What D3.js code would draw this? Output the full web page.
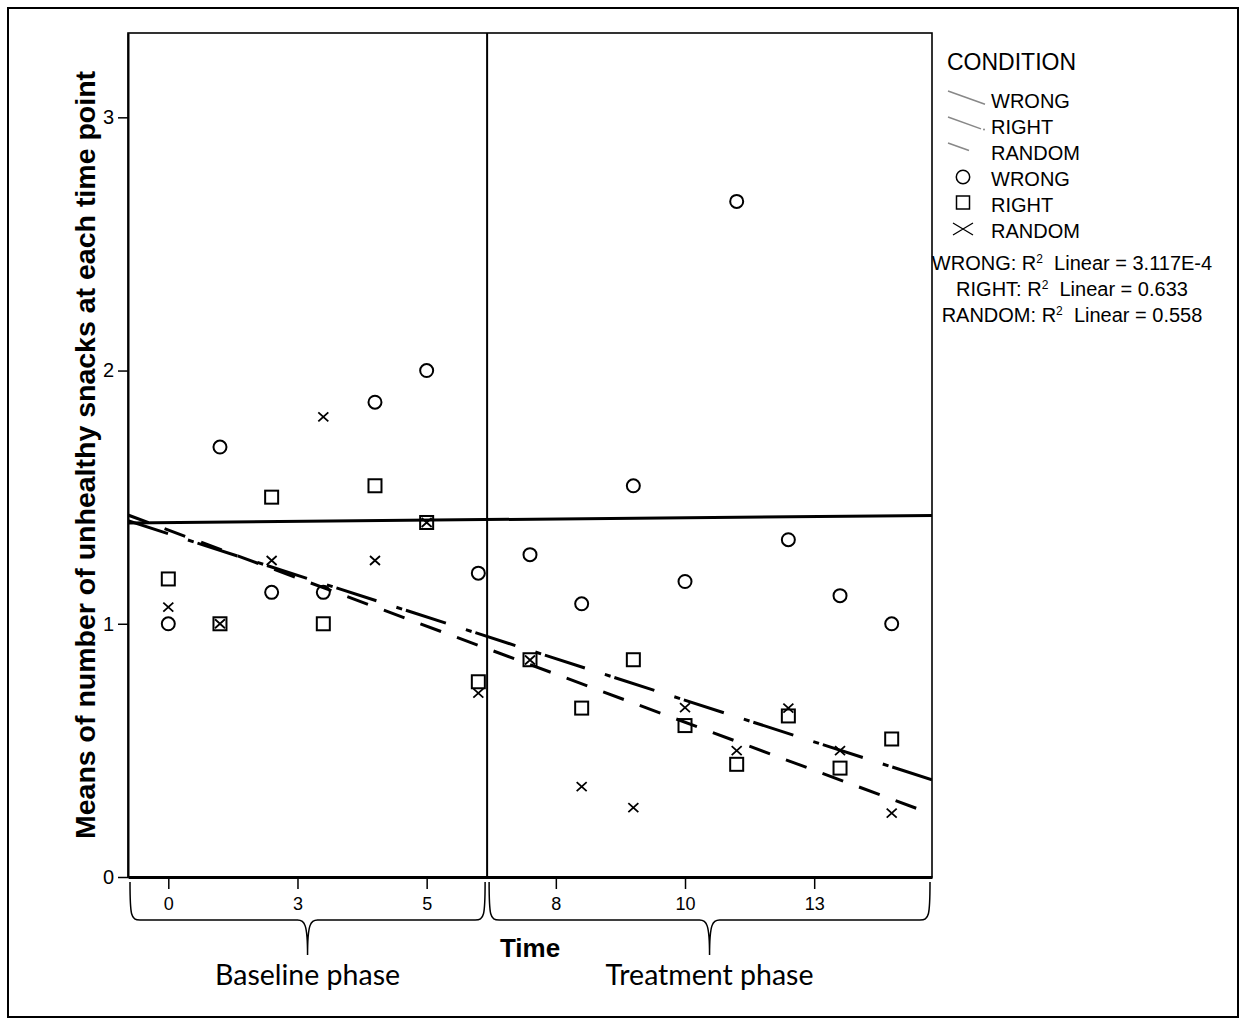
<!DOCTYPE html>
<html>
<head>
<meta charset="utf-8">
<script src="https://cdn.jsdelivr.net/npm/d3@7"></script>
<style>
  html, body { margin: 0; padding: 0; background: #fff; }
  svg { display: block; }
  text { font-family: "Liberation Sans", Arial, sans-serif; fill: #000; }
</style>
</head>
<body>
<svg id="chart" width="1245" height="1025"></svg>
<script>
// ---- data ----
const times = [0, 1, 2, 3, 4, 5, 6, 7, 8, 9, 10, 11, 12, 13, 14];
const wrongVals  = [1.0, 1.698, 1.124, 1.124, 1.875, 2.0, 1.2, 1.273, 1.079, 1.545, 1.167, 2.668, 1.332, 1.111, 1.0];
const rightVals  = [1.177, 1.0, 1.5, 1.0, 1.545, 1.4, 0.771, 0.858, 0.667, 0.858, 0.598, 0.445, 0.636, 0.430, 0.545];
const randomVals = [1.066, 1.0, 1.25, 1.817, 1.25, 1.4, 0.726, 0.857, 0.357, 0.274, 0.669, 0.499, 0.667, 0.499, 0.252];
const xTickValues = [0, 2.5, 5, 7.5, 10, 12.5];
const xTickLabels = ["0", "3", "5", "8", "10", "13"];
const yTickValues = [0, 1, 2, 3];
const phaseBoundary = 6.17;
const phaseLabels = ["Baseline phase", "Treatment phase"];
const conditions = ["WRONG", "RIGHT", "RANDOM"];
const r2Values = ["3.117E-4", "0.633", "0.558"];

// ---- layout ----
const svg = d3.select("#chart");
const L = 128, R = 932, T = 33, B = 877;
const x = d3.scaleLinear().domain([-0.78, 14.78]).range([L, R]);
const y = d3.scaleLinear().domain([0, 3.333]).range([B, T]);

// outer frame
svg.append("rect").attr("x", 8).attr("y", 8).attr("width", 1230).attr("height", 1009)
  .attr("fill", "none").attr("stroke", "#000").attr("stroke-width", 2);

// plot frame
svg.append("rect").attr("x", L).attr("y", T).attr("width", R - L).attr("height", B - T)
  .attr("fill", "none").attr("stroke", "#000").attr("stroke-width", 1.6);

// y axis
const yAxis = svg.append("g").attr("transform", `translate(${L},0)`)
  .call(d3.axisLeft(y).tickValues(yTickValues).tickFormat(d3.format("d")).tickSize(10).tickSizeOuter(0).tickPadding(4));
yAxis.select(".domain").attr("stroke-width", 2);
yAxis.selectAll(".tick line").attr("stroke-width", 1.5);
yAxis.selectAll(".tick text").style("font-size", "20px").style("font-family", '"Liberation Sans", Arial, sans-serif');

// x axis
const xAxis = svg.append("g").attr("transform", `translate(0,${B})`)
  .call(d3.axisBottom(x).tickValues(xTickValues).tickFormat((d, i) => xTickLabels[i]).tickSize(12).tickSizeOuter(0).tickPadding(8));
xAxis.select(".domain").attr("stroke-width", 3);
xAxis.selectAll(".tick line").attr("stroke-width", 1.5);
xAxis.selectAll(".tick text").style("font-size", "18px").style("font-family", '"Liberation Sans", Arial, sans-serif');

// phase boundary line
svg.append("line").attr("x1", x(phaseBoundary)).attr("x2", x(phaseBoundary))
  .attr("y1", T).attr("y2", B).attr("stroke", "#000").attr("stroke-width", 2);

// fit lines (least squares from the data)
function fit(xs, ys) {
  const mx = d3.mean(xs), my = d3.mean(ys);
  let sxy = 0, sxx = 0;
  xs.forEach((xi, i) => { sxy += (xi - mx) * (ys[i] - my); sxx += (xi - mx) * (xi - mx); });
  const b = sxy / sxx;
  return t => my + b * (t - mx);
}
const series = [
  { name: "WRONG", vals: wrongVals, dash: null },
  { name: "RIGHT", vals: rightVals, dash: "42,21,6,4" },
  { name: "RANDOM", vals: randomVals, dash: "22,17" }
];
const [x0, x1] = x.domain();
svg.append("clipPath").attr("id", "plotclip").append("rect")
  .attr("x", L).attr("y", T).attr("width", R - L).attr("height", B - T);
series.forEach(s => {
  const f = fit(times, s.vals);
  const ln = svg.append("line").attr("clip-path", "url(#plotclip)")
    .attr("x1", x(x0)).attr("y1", y(f(x0))).attr("x2", x(x1)).attr("y2", y(f(x1)))
    .attr("stroke", "#000").attr("stroke-width", 3);
  if (s.dash) ln.attr("stroke-dasharray", s.dash);
});

// markers
const mk = svg.append("g").attr("fill", "none").attr("stroke", "#000");
times.forEach((t, i) => {
  mk.append("circle").attr("cx", x(t)).attr("cy", y(wrongVals[i])).attr("r", 6.5).attr("stroke-width", 2);
});
times.forEach((t, i) => {
  const cx = x(t), cy = y(rightVals[i]);
  mk.append("rect").attr("x", cx - 6.5).attr("y", cy - 6.5).attr("width", 13).attr("height", 13).attr("stroke-width", 2);
});
times.forEach((t, i) => {
  const cx = x(t), cy = y(randomVals[i]);
  mk.append("path").attr("d", `M${cx-5},${cy-4.5}L${cx+5},${cy+4.5}M${cx-5},${cy+4.5}L${cx+5},${cy-4.5}`).attr("stroke-width", 1.8);
});

// braces under x axis
function brace(a, b) {
  const xa = x(a) + 2, xb = x(b) - 2, xm = (xa + xb) / 2;
  const top = 882, mid = 920, tip = 955;
  const p = `M${xa},${top} C${xa},${mid-4} ${xa+1},${mid} ${xa+10},${mid} L${xm-10},${mid} ` +
    `C${xm-3},${mid} ${xm},${mid+4} ${xm},${tip} C${xm},${mid+4} ${xm+3},${mid} ${xm+10},${mid} ` +
    `L${xb-10},${mid} C${xb-1},${mid} ${xb},${mid-4} ${xb},${top}`;
  svg.append("path").attr("d", p).attr("fill", "none").attr("stroke", "#000").attr("stroke-width", 1.5);
  return xm;
}
const m1 = brace(x0, phaseBoundary);
const m2 = brace(phaseBoundary, x1);
svg.append("text").attr("x", m1).attr("y", 985).attr("text-anchor", "middle")
  .style("font-family", "Lato, sans-serif").style("font-size", "28.5px").text(phaseLabels[0]);
svg.append("text").attr("x", m2).attr("y", 985).attr("text-anchor", "middle")
  .style("font-family", "Lato, sans-serif").style("font-size", "28.5px").text(phaseLabels[1]);

// axis titles
svg.append("text").attr("x", (L + R) / 2).attr("y", 957).attr("text-anchor", "middle")
  .style("font-size", "26px").style("font-weight", "bold").text("Time");
svg.append("text").attr("transform", `translate(95,${(T + B) / 2}) rotate(-90)`).attr("text-anchor", "middle")
  .style("font-size", "28.5px").style("font-weight", "bold").text("Means of number of unhealthy snacks at each time point");

// legend
const lg = svg.append("g");
lg.append("text").attr("x", 947).attr("y", 70).style("font-size", "23px").text("CONDITION");
const rowY = [101, 127, 153, 179, 205, 231];
const lineLen = [37, 33, 21];
conditions.forEach((c, i) => {
  const yy = rowY[i];
  lg.append("line").attr("x1", 948).attr("y1", yy - 10).attr("x2", 948 + lineLen[i]).attr("y2", yy - 10 + lineLen[i] * 0.36)
    .attr("stroke", "#888").attr("stroke-width", 1.5);
  if (i === 1) {
    lg.append("circle").attr("cx", 984).attr("cy", yy + 2.5).attr("r", 1).attr("fill", "#888");
  }
  lg.append("text").attr("x", 991).attr("y", yy + 7).style("font-size", "20px").text(c);
});
conditions.forEach((c, i) => {
  const yy = rowY[i + 3], cx = 963;
  if (i === 0) lg.append("circle").attr("cx", cx).attr("cy", yy - 2).attr("r", 6.7).attr("fill", "none").attr("stroke", "#000").attr("stroke-width", 1.5);
  if (i === 1) lg.append("rect").attr("x", cx - 6.5).attr("y", yy - 9).attr("width", 13).attr("height", 13).attr("fill", "none").attr("stroke", "#000").attr("stroke-width", 1.5);
  if (i === 2) lg.append("path").attr("d", `M${cx-10},${yy-8}L${cx+10},${yy+4}M${cx-10},${yy+4}L${cx+10},${yy-8}`).attr("fill", "none").attr("stroke", "#000").attr("stroke-width", 1.3);
  lg.append("text").attr("x", 991).attr("y", yy + 7).style("font-size", "20px").text(c);
});
const r2Y = [270, 296, 322];
conditions.forEach((c, i) => {
  const t = lg.append("text").attr("x", 1072).attr("y", r2Y[i]).attr("text-anchor", "middle")
    .style("font-size", "20px").style("white-space", "pre");
  t.append("tspan").text(`${c}: R`);
  t.append("tspan").attr("dy", -7).style("font-size", "12px").text("2");
  t.append("tspan").attr("dy", 7).text(`  Linear = ${r2Values[i]}`);
});
</script>
</body>
</html>
